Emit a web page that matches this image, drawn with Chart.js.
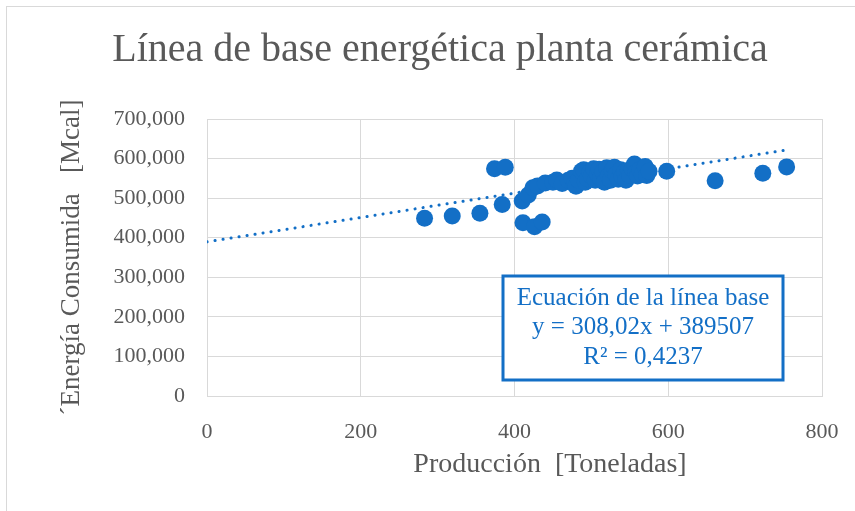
<!DOCTYPE html>
<html>
<head>
<meta charset="utf-8">
<script src="https://cdn.jsdelivr.net/npm/chart.js@4.4.0/dist/chart.umd.min.js"></script>
<style>
  html, body { margin: 0; padding: 0; background: #fff; }
  #wrap { position: relative; width: 855px; height: 511px; overflow: hidden; }
  #frame { position: absolute; left: 6px; top: 6px; width: 900px; height: 600px; border: 1px solid #d9d9d9; pointer-events: none; }
</style>
</head>
<body>
<div id="wrap">
  <canvas id="myChart" width="855" height="511"></canvas>
  <div id="frame"></div>
</div>
<script>
// Producción [t] y Energía [Mcal]
const produccion = [
  283, 319, 355, 374, 384, 388, 410, 411, 426, 436,
  418, 424, 430, 440, 450, 455, 462, 470, 475, 478,
  480, 483, 487, 490, 492, 495, 498, 500, 503, 505,
  508, 510, 512, 515, 517, 520, 522, 525, 527, 530,
  532, 535, 538, 540, 543, 545, 548, 550, 553, 556,
  558, 560, 563, 566, 570, 572, 575, 598, 661, 723, 754
];
const energia = [
  449000, 455000, 462000, 574000, 484000, 578000, 493000, 438000, 428000, 440000,
  508000, 526000, 531000, 538000, 540000, 546000, 537000, 545000, 550000, 536000,
  530000, 546000, 568000, 572000, 540000, 549000, 566000, 556000, 574000, 545000,
  561000, 573000, 550000, 566000, 540000, 577000, 556000, 545000, 569000, 578000,
  560000, 548000, 572000, 555000, 566000, 545000, 570000, 558000, 575000, 586000,
  565000, 556000, 572000, 560000, 580000, 557000, 568000, 568000, 544000, 563000, 579000
];

// línea de tendencia: y = 308,02x + 389507
const pendiente = 308.02;
const intercepto = 389507;
const tendenciaX = [0, 754];

const xTicks = [0, 200, 400, 600, 800];
const yTicks = [0, 100000, 200000, 300000, 400000, 500000, 600000, 700000];

const titulo = 'Línea de base energética planta cerámica';
const tituloX = 'Producción  [Toneladas]';
const tituloY = '´Energía Consumida   [Mcal]';
const ecuacion = ['Ecuación de la línea base', 'y = 308,02x + 389507', 'R² = 0,4237'];

const azul = '#136fc6';
const gris = '#595959';
const fuente = '"Liberation Serif", serif';

const puntos = produccion.map((p, i) => ({ x: p, y: energia[i] }));
const tendencia = tendenciaX.map(x => ({ x: x, y: pendiente * x + intercepto }));

// título, título del eje x y cuadro de la ecuación
const textos = {
  id: 'textos',
  afterDraw(chart) {
    const c = chart.ctx;
    c.save();
    c.textAlign = 'center';
    c.textBaseline = 'middle';
    c.fillStyle = gris;
    c.font = '40px ' + fuente;
    c.fillText(titulo, 440, 50);
    c.font = '28px ' + fuente;
    c.fillText(tituloX, 550, 465);

    const l = 503, t = 276, w = 280, h = 104;
    c.fillStyle = '#fff';
    c.fillRect(l, t, w, h);
    c.strokeStyle = azul;
    c.lineWidth = 3;
    c.strokeRect(l, t, w, h);
    c.fillStyle = azul;
    c.font = '25px ' + fuente;
    ecuacion.forEach((s, i) => c.fillText(s, l + w / 2, 298 + i * 29.5));
    c.restore();
  }
};

const ctx = document.getElementById('myChart');

new Chart(ctx, {
  type: 'scatter',
  data: {
    datasets: [{
      label: 'Energía',
      data: puntos,
      backgroundColor: azul,
      borderWidth: 0,
      pointRadius: 8.5,
      pointHoverRadius: 8.5
    }, {
      type: 'line',
      label: 'Tendencia',
      data: tendencia,
      borderColor: azul,
      borderWidth: 3,
      borderDash: [0.1, 8],
      borderCapStyle: 'round',
      pointRadius: 0,
      fill: false
    }]
  },
  plugins: [textos],
  options: {
    responsive: false,
    animation: false,
    layout: { padding: { left: 0, right: 33, top: 119, bottom: 0 } },
    plugins: {
      legend: { display: false },
      tooltip: { enabled: false },
      title: { display: false }
    },
    scales: {
      x: {
        type: 'linear',
        min: 0,
        max: 800,
        afterBuildTicks: s => { s.ticks = xTicks.map(v => ({ value: v })); },
        afterFit: s => { s.height = 115; s.paddingRight = 0; },
        grid: { color: '#d9d9d9', drawTicks: false },
        border: { color: '#d9d9d9' },
        ticks: {
          color: gris,
          padding: 23,
          font: { family: fuente, size: 22 }
        }
      },
      y: {
        min: 0,
        max: 700000,
        afterBuildTicks: s => { s.ticks = yTicks.map(v => ({ value: v })); },
        afterFit: s => { s.width = 207; },
        grid: { color: '#d9d9d9', drawTicks: false },
        border: { color: '#d9d9d9' },
        ticks: {
          color: gris,
          padding: 22,
          font: { family: fuente, size: 22 },
          callback: v => v.toLocaleString('en-US')
        },
        title: {
          display: true,
          text: tituloY,
          color: gris,
          font: { family: fuente, size: 27 },
          padding: { top: 56, bottom: 0 }
        }
      }
    }
  }
});
</script>
</body>
</html>
